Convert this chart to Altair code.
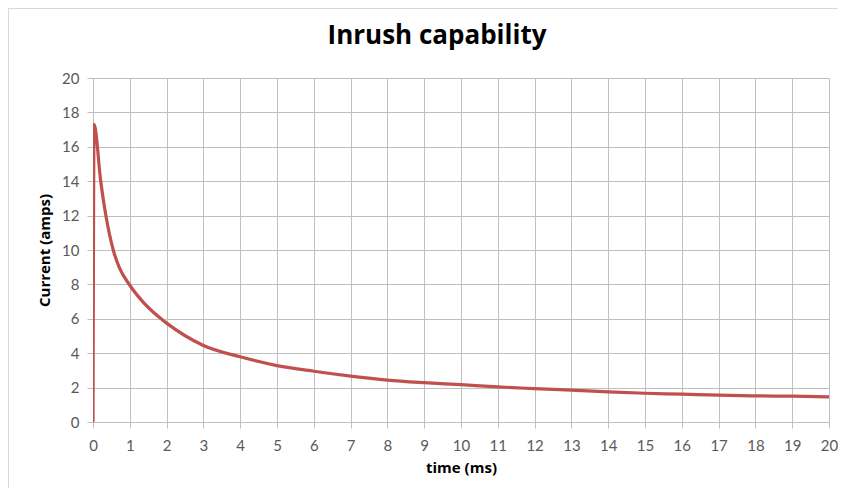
import altair as alt
import pandas as pd

# Data
time_ms = [0, 0.03, 0.21, 0.35, 0.55, 0.71, 1.0, 1.35, 1.85, 2, 3, 4, 5, 6, 7, 8, 9,
           10, 11, 12, 13, 14, 15, 16, 17, 18, 19, 20]
current_amps = [0, 17.3, 14.0, 12.0, 10.0, 9.0, 7.95, 7.0, 6.0, 5.75, 4.45, 3.79, 3.28,
                2.95, 2.67, 2.44, 2.29, 2.17, 2.04, 1.94, 1.85, 1.75, 1.67, 1.62,
                1.56, 1.52, 1.5, 1.46]
tick_values = list(range(0, 21))
y_ticks = list(range(0, 21, 2))

df = pd.DataFrame({"time": time_ms, "current": current_amps, "order": list(range(len(time_ms)))})

FONT = "Lato"
TITLE_FONT = "Open Sans"
GRID = "#bfbfbf"

line = alt.Chart(df).mark_line(
    color="#c0504d", strokeWidth=3.2, interpolate="monotone", clip=True
).encode(
    x=alt.X("time:Q",
            scale=alt.Scale(domain=[0, 20], nice=False),
            axis=alt.Axis(values=tick_values, title="time (ms)", format="d")),
    y=alt.Y("current:Q",
            scale=alt.Scale(domain=[0, 20], nice=False),
            axis=alt.Axis(values=y_ticks, title="Current (amps)", format="d")),
    order="order:Q",
)

frame_left = alt.Chart(df).mark_rule(color="#d9d9d9", strokeWidth=1).encode(
    x=alt.value(-84.5), y=alt.value(-70), y2=alt.value(420)
)
frame_top = alt.Chart(df).mark_rule(color="#d9d9d9", strokeWidth=1).encode(
    x=alt.value(-84.5), x2=alt.value(760), y=alt.value(-69.5)
)

chart = alt.layer(frame_left, frame_top, line).properties(
    width=736,
    height=344,
    autosize=alt.AutoSizeParams(type="none"),
    padding={"left": 85, "top": 70, "right": 9, "bottom": 66},
    title=alt.TitleParams(
        "Inrush capability", font=TITLE_FONT, fontSize=26, fontWeight="bold",
        color="#000000", anchor="middle", dx=-24, offset=-41
    ),
).configure_view(
    stroke=None
).configure_axis(
    labelFont=FONT, labelFontSize=15, labelColor="#595959", labelFlush=False,
    labelOverlap=False,
    titleFont=TITLE_FONT, titleFontSize=15, titleFontWeight="bold", titleColor="#000000",
    gridColor=GRID, gridWidth=1, gridOpacity=1,
    domainColor=GRID, domainWidth=1,
    tickColor=GRID, tickSize=6, tickWidth=1,
).configure_axisX(
    labelPadding=10, titlePadding=7, labelAngle=0
).configure_axisY(
    labelPadding=8, titlePadding=9
)

chart.save("out.html", embed_options={"renderer": "svg", "actions": False})
